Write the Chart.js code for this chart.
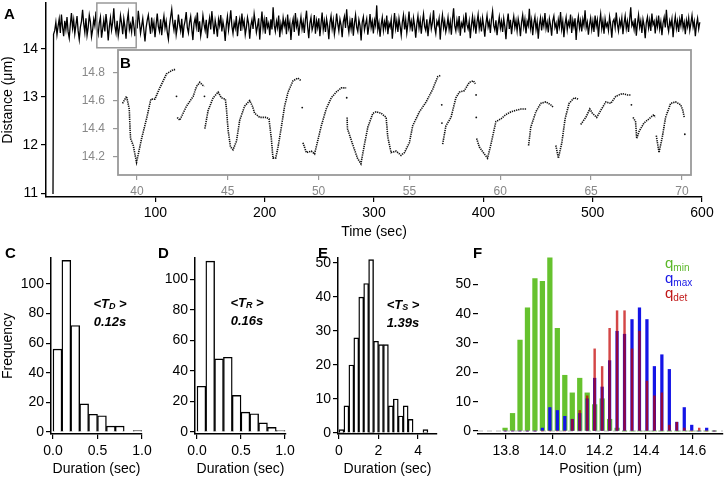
<!DOCTYPE html>
<html>
<head>
<meta charset="utf-8">
<script src="https://cdn.jsdelivr.net/npm/chart.js@4.4.1/dist/chart.umd.min.js"></script>
<style>
    html, body { margin: 0; padding: 0; background: #fff; }
    #fig { position: relative; width: 728px; height: 480px; overflow: hidden; font-family: 'Liberation Sans', Arial, Helvetica, sans-serif; }
    #fig canvas { position: absolute; }
    .lbl { position: absolute; font-weight: bold; font-size: 15px; line-height: 15px; color: #000; }
</style>
</head>
<body>
<div id="fig">
    <canvas id="chartA" width="728" height="245" style="left:0;top:0"></canvas>
    <canvas id="chartB" width="640" height="160" style="left:60px;top:45px"></canvas>
    <canvas id="chartC" width="160" height="240" style="left:0;top:240px"></canvas>
    <canvas id="chartD" width="160" height="240" style="left:150px;top:240px"></canvas>
    <canvas id="chartE" width="170" height="240" style="left:290px;top:240px"></canvas>
    <canvas id="chartF" width="298" height="240" style="left:430px;top:240px"></canvas>
    <div class="lbl" style="left:4px;top:6px">A</div>
    <div class="lbl" style="left:120px;top:55px">B</div>
    <div class="lbl" style="left:5px;top:245px">C</div>
    <div class="lbl" style="left:158px;top:245px">D</div>
    <div class="lbl" style="left:318px;top:245px">E</div>
    <div class="lbl" style="left:473px;top:245px">F</div>
</div>
<script>
var FONT = "'Liberation Sans', Arial, Helvetica, sans-serif";

// A - full distance trace
var riseTime = [6.4, 6.9];
var riseDist = [10.98, 14.30];
var traceStart = 8;
var traceStep = 1.019;
var traceDist = [
    14.38,14.55,14.29,14.47,14.62,14.33,14.71,14.45,14.26,14.58,14.40,14.66,14.35,14.22,14.51,14.74,14.43,14.60,14.31,14.49,
    14.68,14.37,14.19,14.45,14.57,14.81,14.52,14.34,14.63,14.28,14.44,14.70,14.56,14.25,14.39,14.61,14.48,14.77,14.42,14.30,
    14.54,14.66,14.23,14.41,14.59,14.36,14.72,14.50,14.17,14.46,14.64,14.39,14.55,14.84,14.47,14.33,14.58,14.27,14.43,14.69,
    14.53,14.30,14.62,14.45,14.21,14.57,14.74,14.40,14.51,14.35,14.67,14.48,14.26,14.60,14.42,14.79,14.56,14.32,14.47,14.63,
    14.38,14.15,14.44,14.59,14.70,14.49,14.31,14.65,14.41,14.55,14.24,14.50,14.73,14.46,14.36,14.61,14.28,14.52,14.68,14.43,
    14.57,14.34,14.20,14.48,14.66,14.82,14.54,14.39,14.60,14.29,14.45,14.71,14.50,14.37,14.62,14.23,14.47,14.58,14.76,14.44,
    14.33,14.55,14.67,14.41,14.18,14.52,14.63,14.46,14.75,14.35,14.57,14.27,14.43,14.69,14.51,14.38,14.60,14.22,14.49,14.64,
    14.40,14.78,14.53,14.30,14.59,14.45,14.25,14.61,14.48,14.70,14.36,14.56,14.42,14.16,14.50,14.67,14.39,14.58,14.80,14.47,
    14.32,14.54,14.43,14.68,14.26,14.51,14.62,14.37,14.73,14.46,14.58,14.29,14.44,14.65,14.52,14.21,14.48,14.60,14.41,14.72,
    14.55,14.34,14.47,14.63,14.19,14.50,14.77,14.42,14.59,14.31,14.66,14.45,14.53,14.28,14.61,14.40,14.86,14.49,14.36,14.57,
    14.44,14.69,14.24,14.52,14.38,14.64,14.47,14.58,14.30,14.71,14.43,14.55,14.18,14.50,14.62,14.35,14.74,14.46,14.57,14.27,
    14.49,14.66,14.41,14.56,14.33,14.60,14.79,14.45,14.22,14.53,14.65,14.39,14.48,14.70,14.31,14.58,14.44,14.63,14.26,14.51,
    14.75,14.40,14.57,14.35,14.62,14.47,14.20,14.54,14.68,14.42,14.59,14.30,14.46,14.73,14.52,14.37,14.61,14.49,14.24,14.56,
    14.67,14.43,14.82,14.50,14.34,14.58,14.41,14.64,14.27,14.53,14.70,14.45,14.36,14.60,14.48,14.17,14.55,14.66,14.39,14.51,
    14.62,14.29,14.47,14.72,14.44,14.57,14.32,14.59,14.48,14.90,14.40,14.54,14.25,14.50,14.65,14.38,14.56,14.43,14.69,14.30,
    14.53,14.45,14.61,14.21,14.49,14.74,14.42,14.58,14.35,14.63,14.47,14.28,14.55,14.70,14.40,14.60,14.33,14.52,14.77,14.44,
    14.57,14.36,14.64,14.48,14.23,14.51,14.68,14.43,14.59,14.31,14.55,14.72,14.46,14.38,14.61,14.26,14.50,14.66,14.41,14.54,
    14.80,14.45,14.32,14.57,14.49,14.63,14.19,14.52,14.70,14.44,14.58,14.35,14.47,14.65,14.40,14.56,14.29,14.61,14.84,14.48,
    14.37,14.59,14.43,14.68,14.27,14.53,14.46,14.62,14.34,14.75,14.50,14.41,14.57,14.22,14.49,14.67,14.44,14.60,14.31,14.55,
    14.71,14.42,14.58,14.36,14.64,14.47,14.25,14.52,14.69,14.45,14.56,14.33,14.61,14.78,14.48,14.39,14.59,14.28,14.50,14.66,
    14.43,14.57,14.35,14.63,14.46,14.20,14.54,14.73,14.41,14.60,14.30,14.52,14.67,14.44,14.58,14.37,14.62,14.49,14.26,14.55,
    14.70,14.45,14.61,14.32,14.57,14.48,14.83,14.43,14.59,14.28,14.53,14.66,14.40,14.56,14.21,14.50,14.64,14.38,14.60,14.47,
    14.74,14.42,14.55,14.34,14.62,14.49,14.27,14.58,14.68,14.44,14.53,14.31,14.60,14.46,14.76,14.41,14.57,14.24,14.51,14.65,
    14.39,14.56,14.47,14.71,14.33,14.59,14.45,14.63,14.18,14.52,14.67,14.43,14.58,14.36,14.61,14.48,14.80,14.44,14.55,14.29,
    14.50,14.64,14.40,14.57,14.35,14.69,14.47,14.60,14.25,14.54,14.72,14.42,14.58,14.31,14.62,14.46,14.53,14.38,14.66,14.49,
    14.23,14.56,14.61,14.44,14.75,14.51,14.37,14.59,14.47,14.64,14.30,14.53,14.68,14.42,14.57,14.35,14.60,14.86,14.48,14.55,
    14.40,14.63,14.27,14.52,14.70,14.45,14.58,14.33,14.61,14.48,14.22,14.55,14.66,14.43,14.59,14.37,14.73,14.50,14.57,14.32,
    14.60,14.46,14.69,14.41,14.56,14.28,14.53,14.65,14.44,14.81,14.49,14.36,14.58,14.47,14.62,14.24,14.51,14.67,14.42,14.57,
    14.35,14.61,14.48,14.72,14.43,14.55,14.30,14.59,14.46,14.64,14.38,14.53,14.69,14.45,14.57,14.26,14.50,14.63,14.41,14.55
];
var timeTicks = [100, 200, 300, 400, 500, 600];
var distTicks = [11, 12, 13, 14];
var zoomBoxTime = [46.5, 82.5];
var zoomBoxDist = [14.02, 14.95];

// B - zoomed trace, null = break between runs
var insetTime = [
    39.21,39.43,39.58,39.62,39.65,39.80,39.98,40.26,40.53,40.77,40.99,41.26,41.63,42.00,42.14,null,
    42.22,42.36,42.73,43.10,43.28,43.46,43.70,null,
    43.74,43.92,44.20,44.47,44.65,44.87,44.93,45.02,45.15,45.29,45.48,45.66,45.93,46.21,46.36,46.48,46.76,47.12,47.27,47.40,47.49,47.64,47.77,47.95,48.13,48.32,48.59,48.86,49.05,null,
    49.14,49.33,49.60,49.78,49.91,50.15,50.42,50.70,50.97,51.25,51.52,null,
    51.57,51.59,51.87,52.14,52.33,52.53,52.71,52.99,53.17,53.44,53.72,53.81,53.99,54.27,54.54,54.73,55.00,55.18,55.55,55.92,56.28,56.56,56.74,null,
    56.83,57.01,57.29,57.56,57.75,58.02,58.30,58.52,58.63,null,
    58.70,58.85,59.12,59.30,59.49,59.76,60.04,60.31,60.59,60.86,61.14,61.47,null,
    61.56,61.68,61.96,62.23,62.51,62.78,62.93,null,
    63.06,63.20,63.39,63.57,63.79,64.07,64.30,null,
    64.43,64.71,64.93,65.07,65.31,65.53,65.81,66.08,66.36,66.72,67.00,67.18,null,
    67.31,67.45,67.51,67.64,67.91,68.19,68.46,68.52,null,
    68.59,68.74,68.92,69.10,69.38,69.65,69.93,70.05,70.13
];
var insetDist = [
    14.58,14.63,14.54,14.41,14.33,14.28,14.16,14.33,14.47,14.61,14.61,14.69,14.79,14.82,14.82,null,
    14.48,14.46,14.56,14.63,14.70,14.73,14.70,null,
    14.40,14.53,14.62,14.66,14.62,14.61,14.54,14.39,14.27,14.25,14.31,14.46,14.56,14.60,14.56,14.51,14.48,14.48,14.47,14.33,14.19,14.19,14.27,14.41,14.56,14.66,14.74,14.76,14.74,null,
    14.30,14.23,14.24,14.22,14.29,14.42,14.54,14.62,14.66,14.69,14.69,null,
    14.48,14.40,14.29,14.19,14.15,14.29,14.41,14.51,14.52,14.51,14.48,14.34,14.23,14.24,14.21,14.23,14.30,14.42,14.52,14.59,14.68,14.77,14.78,null,
    14.29,14.42,14.48,14.62,14.66,14.67,14.73,14.74,14.72,null,
    14.33,14.27,14.22,14.19,14.29,14.45,14.47,14.50,14.52,14.53,14.54,14.54,null,
    14.28,14.41,14.52,14.58,14.59,14.57,14.55,null,
    14.28,14.19,14.30,14.47,14.58,14.62,14.61,null,
    14.43,14.48,14.54,14.51,14.48,14.53,14.59,14.58,14.63,14.65,14.64,14.64,null,
    14.48,14.45,14.33,14.38,14.44,14.47,14.50,14.48,null,
    14.35,14.23,14.34,14.48,14.58,14.59,14.57,14.53,14.48
];
var insetDotTime = [42.18, 43.72, 49.10, 51.55, 56.78, 56.79, 58.67, 58.68, 67.22, 70.16];
var insetDotDist = [14.63, 14.63, 14.55, 14.62, 14.57, 14.44, 14.64, 14.48, 14.57, 14.36];
var insetTimeTicks = [40, 45, 50, 55, 60, 65, 70];
var insetDistTicks = [14.2, 14.4, 14.6, 14.8];

// C, D, E - dwell time histograms
var dwellBins = [0.05, 0.15, 0.25, 0.35, 0.45, 0.55, 0.65, 0.75, 0.85, 0.95];
var countTD = [56, 116, 72, 19, 12, 11, 4, 4, 0, 1];
var countTR = [30, 112, 48, 49, 24, 13, 12, 6, 3, 1];
var stallBins = [0.125, 0.375, 0.625, 0.875, 1.125, 1.375, 1.625, 1.875, 2.125, 2.375, 2.625, 2.875, 3.125, 3.375, 3.625, 3.875, 4.125, 4.375];
var countTS = [1, 8, 20, 28, 40, 44, 51, 27, 26, 26, 8, 10, 5, 8, 4, 0, 0, 1];
var dwellTicks = [0, 0.5, 1];
var stallTicks = [0, 2, 4];
var freqTicks = [0, 20, 40, 60, 80, 100];
var freqTicksE = [0, 10, 20, 30, 40, 50];

// F - position histograms
var posBins = [13.796, 13.828, 13.860, 13.892, 13.924, 13.956, 13.988, 14.020, 14.052, 14.084, 14.116, 14.148, 14.180, 14.212, 14.244,
    14.276, 14.308, 14.340, 14.372, 14.404, 14.436, 14.468, 14.500, 14.532, 14.564, 14.596, 14.628, 14.660, 14.692];
var qMin = [1, 6, 31, 42, 52, 51, 59, 35, 19, 13, 18, 13, 9, 11, 4, 1, 0, 0, 0, 0, 0, 0, 0, 0, 0, 0, 0, 0, 0];
var qMax = [0, 0, 0, 0, 0, 1, 8, 7, 5, 4, 6, 11, 18, 15, 24, 34, 33, 38, 42, 38, 22, 26, 21, 3, 8, 2, 0, 1, 0];
var qDet = [0, 0, 0, 0, 0, 0, 0, 0, 0, 4, 7, 12, 28, 22, 35, 41, 41, 28, 34, 17, 12, 13, 2, 3, 1, 0, 1, 0, 0];
var posTicks = [13.8, 14.0, 14.2, 14.4, 14.6];
var countTicksF = [0, 10, 20, 30, 40, 50];
var posRange = [13.68, 14.73];

function pairs(xs, ys) {
    return xs.map(function (x, i) { return { x: x, y: ys[i] }; });
}

function fixTicks(values) {
    return function (scale) {
        scale.ticks = values.map(function (v) { return { value: v }; });
    };
}

function fixWidth(w) {
    return function (s) { s.width = w; s.paddingTop = 0; s.paddingBottom = 0; };
}

function fixHeight(h) {
    return function (s) { s.height = h; s.paddingLeft = 0; s.paddingRight = 0; };
}

function font(size, extra) {
    var f = { family: FONT, size: size };
    if (extra) f.weight = extra;
    return f;
}

function drawRuns(ctx, x, y, runs, align) {
    var w = 0;
    runs.forEach(function (r) { ctx.font = r.font; w += ctx.measureText(r.text).width; });
    var cx = align === 'center' ? x - w / 2 : x;
    ctx.textBaseline = 'middle';
    ctx.textAlign = 'left';
    runs.forEach(function (r) {
        ctx.font = r.font;
        ctx.fillStyle = r.color || '#000';
        ctx.fillText(r.text, cx, y + (r.dy || 0));
        cx += ctx.measureText(r.text).width;
    });
}

function meanLabel(x, y, sub, value) {
    return {
        id: 'meanLabel',
        afterDraw: function (chart) {
            var ctx = chart.ctx;
            var big = 'italic bold 13px ' + FONT;
            var small = 'italic bold 9px ' + FONT;
            ctx.save();
            drawRuns(ctx, x, y, [
                { text: '<', font: big }, { text: 'T', font: big },
                { text: sub, font: small, dy: 3 }, { text: ' >', font: big }
            ], 'center');
            drawRuns(ctx, x, y + 18, [{ text: value, font: big }], 'center');
            ctx.restore();
        }
    };
}

var baseOpts = {
    responsive: false,
    animation: false,
    events: [],
    plugins: { legend: { display: false }, tooltip: { enabled: false } }
};

function tickGrid(color) {
    return { drawOnChartArea: false, drawTicks: true, tickLength: 5, color: color || '#000', lineWidth: 1.2, offset: false };
}

// ---------- A ----------
var aData = pairs(riseTime, riseDist).concat(traceDist.map(function (v, i) {
    return { x: traceStart + i * traceStep, y: v };
}));

new Chart(document.getElementById('chartA'), {
    type: 'line',
    data: {
        datasets: [{ data: aData, borderColor: '#000', borderWidth: 1.3, pointRadius: 0, tension: 0 }]
    },
    options: Object.assign({}, baseOpts, {
        layout: { padding: { left: 0, top: 3, right: 26, bottom: 0 } },
        scales: {
            x: {
                type: 'linear', min: 0, max: 600,
                afterBuildTicks: fixTicks(timeTicks), afterFit: fixHeight(48),
                grid: tickGrid(), border: { color: '#000', width: 1.5 },
                ticks: { font: font(14), color: '#000', padding: 3, maxRotation: 0, autoSkip: false },
                title: { display: true, text: 'Time (sec)', font: font(14), color: '#000', padding: { top: 0, bottom: 4 } }
            },
            y: {
                min: 10.92, max: 14.95,
                afterBuildTicks: fixTicks(distTicks), afterFit: fixWidth(46),
                grid: tickGrid(), border: { color: '#000', width: 1.5 },
                ticks: { font: font(14), color: '#000', padding: 3 },
                title: { display: true, text: 'Distance (μm)', font: font(14), color: '#000', padding: { top: 0, bottom: 0 } }
            }
        }
    }),
    plugins: [{
        id: 'zoomBox',
        afterDatasetsDraw: function (chart) {
            var x = chart.scales.x, y = chart.scales.y, ctx = chart.ctx;
            var x0 = x.getPixelForValue(zoomBoxTime[0]), x1 = x.getPixelForValue(zoomBoxTime[1]);
            var y0 = y.getPixelForValue(zoomBoxDist[1]), y1 = y.getPixelForValue(zoomBoxDist[0]);
            ctx.save();
            ctx.strokeStyle = '#999';
            ctx.lineWidth = 1.5;
            ctx.strokeRect(x0, y0, x1 - x0, y1 - y0);
            ctx.restore();
        }
    }]
});

// ---------- B ----------
new Chart(document.getElementById('chartB'), {
    type: 'line',
    data: {
        datasets: [
            { data: pairs(insetTime, insetDist), borderColor: '#111', borderWidth: 1.6, borderDash: [1.3, 0.9], pointRadius: 0, spanGaps: false, tension: 0 },
            { data: pairs(insetDotTime, insetDotDist), showLine: false, pointRadius: 0.9, pointBackgroundColor: '#111', pointBorderWidth: 0 }
        ]
    },
    options: Object.assign({}, baseOpts, {
        layout: { padding: { left: 0, top: 5, right: 9, bottom: 0 } },
        scales: {
            x: {
                type: 'linear', min: 38.96, max: 70.5,
                afterBuildTicks: fixTicks(insetTimeTicks), afterFit: fixHeight(30),
                grid: tickGrid('#999'), border: { display: false },
                ticks: { font: font(12), color: '#888', padding: 4, maxRotation: 0, autoSkip: false }
            },
            y: {
                min: 14.07, max: 14.96,
                afterBuildTicks: fixTicks(insetDistTicks), afterFit: fixWidth(58),
                grid: tickGrid('#999'), border: { display: false },
                ticks: { font: font(12), color: '#888', padding: 8, callback: function (v) { return v.toFixed(1); } }
            }
        }
    }),
    plugins: [{
        id: 'insetFrame',
        beforeDraw: function (chart) {
            var a = chart.chartArea, ctx = chart.ctx;
            ctx.save();
            ctx.fillStyle = '#fff';
            ctx.fillRect(a.left, a.top, a.right - a.left, a.bottom - a.top);
            ctx.restore();
        },
        afterDraw: function (chart) {
            var a = chart.chartArea, ctx = chart.ctx;
            ctx.save();
            ctx.strokeStyle = '#999';
            ctx.lineWidth = 1.8;
            ctx.strokeRect(a.left, a.top, a.right - a.left, a.bottom - a.top);
            ctx.restore();
        }
    }]
});

// ---------- C, D, E ----------
function histOptions(cfg) {
    return Object.assign({}, baseOpts, {
        layout: { padding: { left: 0, top: cfg.top, right: cfg.right, bottom: 0 } },
        scales: {
            x: {
                type: 'linear', offset: false, min: cfg.xMin, max: cfg.xMax,
                afterBuildTicks: fixTicks(cfg.xTicks), afterFit: fixHeight(46),
                grid: tickGrid(), border: { color: '#000', width: 1.5 },
                ticks: { font: font(14), color: '#000', padding: 4, maxRotation: 0, autoSkip: false, callback: cfg.xFmt },
                title: { display: true, text: cfg.xTitle, font: font(14), color: '#000', padding: { top: 0, bottom: 2 } }
            },
            y: {
                min: cfg.yMin, max: cfg.yMax,
                afterBuildTicks: fixTicks(cfg.yTicks), afterFit: fixWidth(cfg.yWidth),
                grid: tickGrid(), border: { display: cfg.yBorder !== false, color: '#000', width: 1.5 },
                ticks: { font: font(14), color: '#000', padding: 2 },
                title: { display: !!cfg.yTitle, text: cfg.yTitle || '', font: font(14), color: '#000', padding: { top: 0, bottom: 0 } }
            }
        }
    });
}

function histSet(bins, counts) {
    return {
        data: pairs(bins, counts), backgroundColor: '#fff', borderColor: '#000', borderWidth: 1.4,
        categoryPercentage: 1, barPercentage: 1
    };
}

var oneDecimal = function (v) { return v.toFixed(1); };
var plain = function (v) { return String(v); };

new Chart(document.getElementById('chartC'), {
    type: 'bar',
    data: { datasets: [histSet(dwellBins, countTD)] },
    options: histOptions({ top: 18, right: 18, xMin: -0.0225, xMax: 1.0, xTicks: dwellTicks, xFmt: oneDecimal, xTitle: 'Duration (sec)',
        yMin: -1.35, yMax: 117.6, yTicks: freqTicks, yWidth: 51, yTitle: 'Frequency' }),
    plugins: [meanLabel(110, 64, 'D', '0.12s')]
});

new Chart(document.getElementById('chartD'), {
    type: 'bar',
    data: { datasets: [histSet(dwellBins, countTR)] },
    options: histOptions({ top: 18, right: 24, xMin: -0.023, xMax: 1.011, xTicks: dwellTicks, xFmt: oneDecimal, xTitle: 'Duration (sec)',
        yMin: -1.3, yMax: 114.1, yTicks: freqTicks, yWidth: 45 }),
    plugins: [meanLabel(97, 63, 'R', '0.16s')]
});

new Chart(document.getElementById('chartE'), {
    type: 'bar',
    data: { datasets: [histSet(stallBins, countTS)] },
    options: histOptions({ top: 18, right: 23, xMin: -0.05, xMax: 4.96, xTicks: stallTicks, xFmt: plain, xTitle: 'Duration (sec)',
        yMin: -0.29, yMax: 51.5, yTicks: freqTicksE, yWidth: 48 }),
    plugins: [meanLabel(113, 65, 'S', '1.39s')]
});

// ---------- F ----------
var fOpts = histOptions({ top: 15, right: 5, xMin: posRange[0], xMax: posRange[1], xTicks: posTicks, xFmt: oneDecimal, xTitle: 'Position (μm)',
    yMin: -1.02, yMax: 60, yTicks: countTicksF, yWidth: 48, yBorder: false });

new Chart(document.getElementById('chartF'), {
    type: 'bar',
    data: {
        datasets: [
            { data: pairs(posBins, qDet), backgroundColor: 'rgba(195, 0, 0, 0.72)', barThickness: 1.8, grouped: false, order: 0 },
            { data: pairs(posBins, qMax), backgroundColor: '#1414e6', barThickness: 2.6, grouped: false, order: 1 },
            { data: pairs(posBins, qMin), backgroundColor: '#66c22e', barThickness: 4.6, grouped: false, order: 2 },
            { type: 'line', data: pairs(posRange, [0, 0]), borderColor: '#bbb', borderWidth: 1, borderDash: [5, 4], pointRadius: 0, order: 3 }
        ]
    },
    options: fOpts,
    plugins: [{
        id: 'qLegend',
        afterDraw: function (chart) {
            var ctx = chart.ctx;
            var big = '15px ' + FONT, small = '10px ' + FONT;
            var items = [['min', '#5cb82a'], ['max', '#1a1ae6'], ['det', '#c01818']];
            ctx.save();
            items.forEach(function (it, i) {
                drawRuns(ctx, 235, 24 + i * 15, [
                    { text: 'q', font: big, color: it[1] },
                    { text: it[0], font: small, color: it[1], dy: 4 }
                ], 'left');
            });
            ctx.restore();
        }
    }]
});
</script>
</body>
</html>
